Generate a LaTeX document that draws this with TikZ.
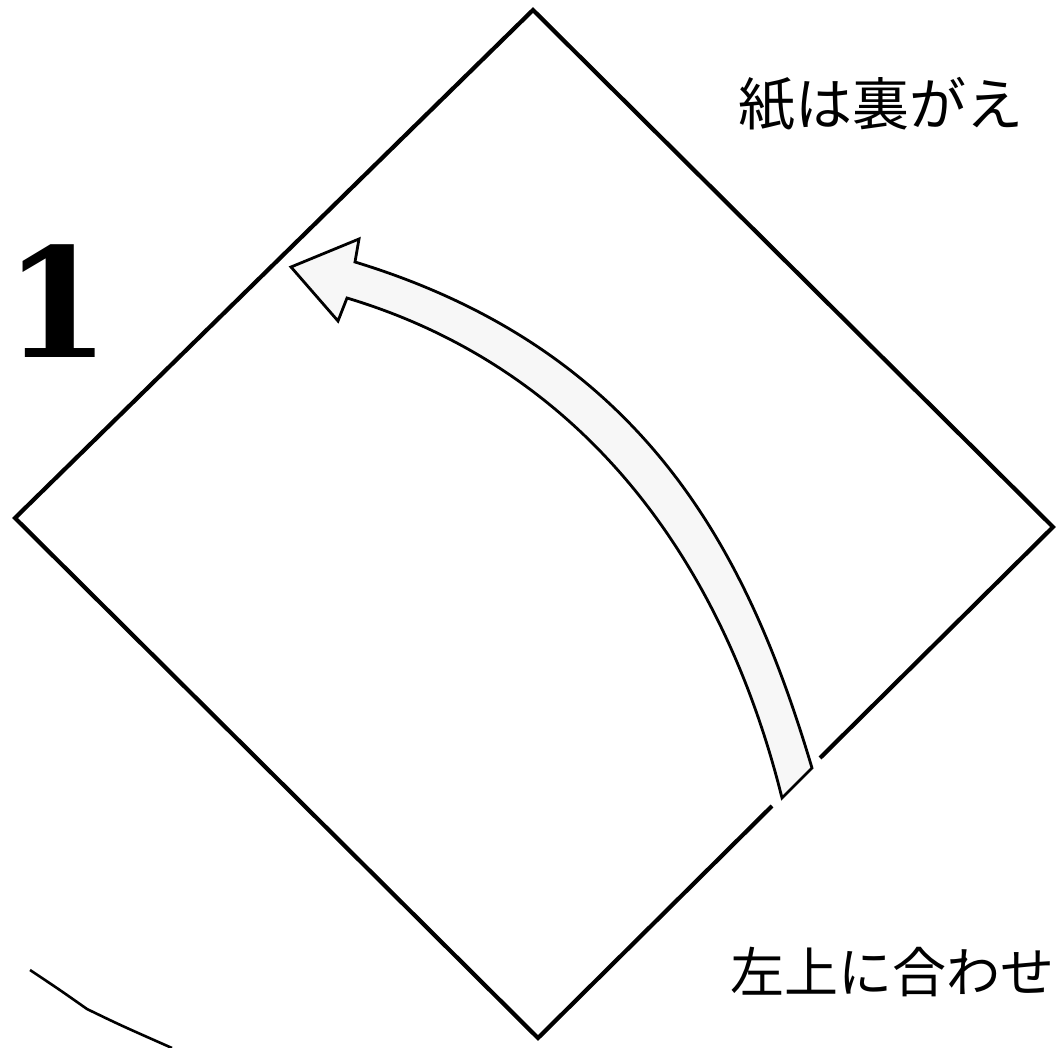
\documentclass[tikz,border=0pt]{standalone}
\usepackage{fontspec}
\newfontfamily\jpfont{Noto Sans CJK JP}
\newfontfamily\numfont{DejaVu Serif}
\begin{document}
\begin{tikzpicture}[x=1pt,y=-1pt,
  edge/.style={line width=4.2pt,line join=miter,line cap=butt},
  arrowshape/.style={draw,line width=2.8pt,fill=black!3,line join=miter},
  jptext/.style={inner sep=0pt,anchor=base west,font=\jpfont\fontsize{57}{57}\selectfont},
  jpsmall/.style={jptext,font=\jpfont\fontsize{54}{54}\selectfont},
  bignum/.style={inner sep=0pt,anchor=base west,font=\numfont\bfseries\fontsize{152}{152}\selectfont}]
\useasboundingbox (0,0) rectangle (1057,1048);
% diamond corners
\coordinate (T) at (533,10);
\coordinate (R) at (1053,527);
\coordinate (B) at (538,1038);
\coordinate (L) at (15,518);
\coordinate (G1) at (820,758);
\coordinate (G2) at (772,806);
\draw[edge] (G1) -- (R) -- (T) -- (L) -- (B) -- (G2);
% curved folding arrow
\coordinate (tailL) at (782,798);
\coordinate (tailR) at (812,768);
\coordinate (neckU) at (355,262);
\coordinate (barbU) at (359,239);
\coordinate (tip) at (291,267);
\coordinate (barbL) at (338,321);
\coordinate (neckL) at (347,298);
\draw[arrowshape] (tailR) .. controls (750,560) and (650,352) .. (neckU)
  -- (barbU) -- (tip) -- (barbL) -- (neckL)
  .. controls (587,370) and (724,565) .. (tailL) -- cycle;
% texts
\node[jptext] (t1) at (738,126) {紙は裏がえ};
\node[jpsmall] (t2) at (730,992) {左上に合わせ};
\node[bignum] (n1) at (4,357) {1};
% stray line lower left
\coordinate (s1) at (30,970);
\coordinate (s2) at (87,1009);
\coordinate (s3) at (172,1048);
\draw[line width=2.6pt] (s1) .. controls (60,990) .. (s2) .. controls (120,1025) .. (s3);
\end{tikzpicture}
\end{document}
